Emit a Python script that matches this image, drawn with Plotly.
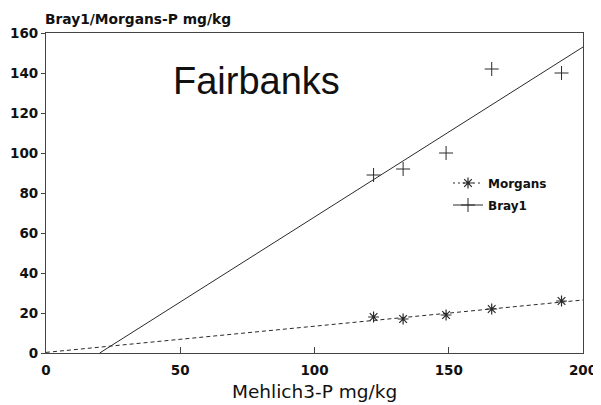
import plotly.graph_objects as go

# Data
mehlich_bray = [122, 133, 149, 166, 192]
bray1 = [89, 92, 100, 142, 140]
mehlich_morg = [122, 133, 149, 166, 192]
morgans = [18, 17, 19, 22, 26]

# Fitted lines (endpoints)
bray_fit_x = [20, 200]
bray_fit_y = [0, 153]
morg_fit_x = [0, 200]
morg_fit_y = [0.3, 26.5]

x_ticks = [0, 50, 100, 150, 200]
y_ticks = [0, 20, 40, 60, 80, 100, 120, 140, 160]

ink = "#2a2a2a"
tickfont = dict(family="DejaVu Sans", size=13.5, color="#111", weight="bold")
legfont = dict(family="DejaVu Sans", size=12, color="#111", weight="bold")

fig = go.Figure()

# fit lines
fig.add_trace(go.Scatter(x=bray_fit_x, y=bray_fit_y, mode="lines",
                         line=dict(color=ink, width=1), showlegend=False, hoverinfo="skip"))
fig.add_trace(go.Scatter(x=morg_fit_x, y=morg_fit_y, mode="lines",
                         line=dict(color=ink, width=1, dash="4px,3px"), showlegend=False, hoverinfo="skip"))

# points
fig.add_trace(go.Scatter(x=mehlich_morg, y=morgans, mode="markers", showlegend=False,
                         marker=dict(symbol="asterisk", size=9, line=dict(color=ink, width=1.2))))
fig.add_trace(go.Scatter(x=mehlich_bray, y=bray1, mode="markers", showlegend=False,
                         marker=dict(symbol="cross-thin", size=10, line=dict(color=ink, width=1))))

# legend entries
fig.add_trace(go.Scatter(x=[None], y=[None], mode="lines+markers", name="Morgans", legend="legend",
                         line=dict(color=ink, width=1, dash="2px,3px"),
                         marker=dict(symbol="asterisk", size=9, line=dict(color=ink, width=1.2))))
fig.add_trace(go.Scatter(x=[None], y=[None], mode="lines+markers", name="Bray1", legend="legend2",
                         line=dict(color=ink, width=1),
                         marker=dict(symbol="cross-thin", size=10, line=dict(color=ink, width=1))))

# plot area on screen: x 46..583, y 33..353 (page body has an 8px offset)
def py(pix):
    return (353 - pix) / 320.0

def px(pix):
    return (pix - 46) / 537.0

fig.update_layout(
    width=601, height=405,
    margin=dict(l=38, r=26, t=25, b=60),
    paper_bgcolor="white", plot_bgcolor="white",
    showlegend=True,
    legend=dict(x=px(448), y=py(183), xanchor="left", yanchor="middle",
                bgcolor="rgba(0,0,0,0)", borderwidth=0, font=legfont, itemwidth=30),
    legend2=dict(x=px(448), y=py(205), xanchor="left", yanchor="middle",
                 bgcolor="rgba(0,0,0,0)", borderwidth=0, font=legfont, itemwidth=30),
    xaxis=dict(range=[0, 200], tickvals=x_ticks, ticktext=[str(v) for v in x_ticks],
               showgrid=False, zeroline=False, showline=True, linecolor="#444", linewidth=1.2,
               mirror=True, ticks="inside", ticklen=6, tickcolor="#444",
               tickfont=tickfont, ticklabelstandoff=5, automargin=False),
    yaxis=dict(range=[0, 160], tickvals=y_ticks,
               showgrid=False, zeroline=False, showline=True, linecolor="#444", linewidth=1.2,
               mirror=True, ticks="outside", ticklen=4, tickcolor="#444",
               tickfont=tickfont, automargin=False),
)

fig.add_annotation(text="Fairbanks", xref="paper", yref="paper", x=px(256), y=py(81), showarrow=False,
                   xanchor="center", yanchor="middle",
                   font=dict(family="Liberation Sans", size=38, color="#111"))
fig.add_annotation(text="Bray1/Morgans-P mg/kg", xref="paper", yref="paper", x=px(43), y=1.0,
                   xanchor="left", yanchor="bottom", yshift=4, showarrow=False,
                   font=dict(family="DejaVu Sans", size=13.8, color="#111", weight="bold"))
fig.add_annotation(text="Mehlich3-P mg/kg", xref="paper", yref="paper", x=px(314), y=py(391),
                   xanchor="center", yanchor="middle", showarrow=False,
                   font=dict(family="DejaVu Sans", size=18.5, color="#111"))

fig.write_html("out.html")
